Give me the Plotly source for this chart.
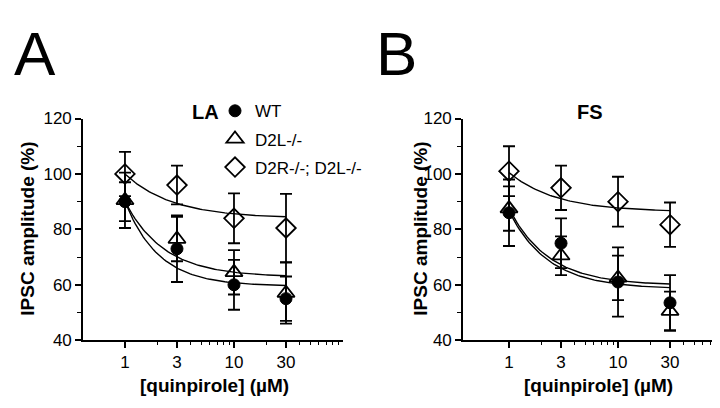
import numpy as np
import plotly.graph_objects as go

# ---------------- data ----------------
conc = [1, 3, 10, 30]  # quinpirole (uM)
tick_vals = [1, 3, 10, 30]
tick_text = ["1", "3", "10", "30"]
minor_x = [2, 4, 5, 6, 7, 8, 9, 20, 40, 50, 60, 70, 80, 90]

# Panel A (LA)
la_wt = [90, 73, 60, 55]
la_wt_err = [7, 12, 9, 8]
la_d2l = [90.5, 76.5, 64.5, 57]
la_d2l_err = [10, 8, 8, 11]
la_dko = [100, 96, 84, 80.5]
la_dko_err = [8, 7, 9, 12.3]

# Panel B (FS)
fs_wt = [86, 75, 61, 53.5]
fs_wt_err = [12, 9, 12.5, 10]
fs_d2l = [87.5, 70.5, 62.5, 50.5]
fs_d2l_err = [8, 7, 8, 7]
fs_dko = [101, 95, 90, 81.7]
fs_dko_err = [9, 8, 9, 8]

# fitted curves: value at 1 uM, plateau, decay exponent
la_fit_wt = (90, 59.5, 1.4)
la_fit_d2l = (90, 62.8, 1.2)
la_fit_dko = (100, 84, 1.0)
fs_fit_wt = (86.5, 58.5, 1.2)
fs_fit_d2l = (87.5, 59.8, 1.2)
fs_fit_dko = (100.5, 86.3, 1.0)

names = ["WT", "D2L-/-", "D2R-/-; D2L-/-"]

FONT = "Liberation Sans, Arial, sans-serif"

fig = go.Figure()

x_fit = np.geomspace(1, 30, 80)


def fit_curve(p):
    y1, bottom, h = p
    return bottom + (y1 - bottom) * x_fit ** (-h)


def add_panel(xa, ya, series, fits, show_legend):
    for p in fits:
        fig.add_trace(go.Scatter(x=x_fit, y=fit_curve(p), mode="lines",
                                 line=dict(color="black", width=1.4),
                                 showlegend=False, hoverinfo="skip",
                                 xaxis=xa, yaxis=ya))
    styles = [
        dict(symbol="circle", size=12, color="black", line=dict(color="black", width=1)),
        dict(symbol="triangle-up-open", size=15, color="black", line=dict(color="black", width=1.8)),
        dict(symbol="diamond-open", size=15, color="black", line=dict(color="black", width=1.8)),
    ]
    for i, (vals, errs) in enumerate(series):
        fig.add_trace(go.Scatter(
            x=conc, y=vals, mode="markers", name=names[i],
            marker=styles[i],
            error_y=dict(type="data", array=errs, visible=True,
                         color="black", thickness=1.8, width=6),
            showlegend=show_legend, legendgroup=names[i],
            xaxis=xa, yaxis=ya))


add_panel("x", "y",
          [(la_wt, la_wt_err), (la_d2l, la_d2l_err), (la_dko, la_dko_err)],
          [la_fit_wt, la_fit_d2l, la_fit_dko], True)
add_panel("x2", "y2",
          [(fs_wt, fs_wt_err), (fs_d2l, fs_d2l_err), (fs_dko, fs_dko_err)],
          [fs_fit_wt, fs_fit_d2l, fs_fit_dko], False)

W, H = 720, 408
ydom = [(408 - 339) / H, (408 - 106.5) / H]

xaxis_common = dict(type="log", tickvals=tick_vals, ticktext=tick_text,
                    ticks="outside", ticklen=6, tickwidth=1.6, tickcolor="black",
                    showline=True, linecolor="black", linewidth=1.6,
                    showgrid=False, zeroline=False,
                    tickfont=dict(family=FONT, size=17, color="black"),
                    minor=dict(tickvals=minor_x, ticks="outside", ticklen=3,
                               tickwidth=1.3, tickcolor="black", showgrid=False))
yaxis_common = dict(range=[40, 120], tickvals=[40, 60, 80, 100, 120],
                    ticks="outside", ticklen=6, tickwidth=1.6, tickcolor="black",
                    showline=True, linecolor="black", linewidth=1.6,
                    showgrid=False, zeroline=False,
                    tickfont=dict(family=FONT, size=17, color="black"),
                    minor=dict(tickvals=[50, 70, 90, 110], ticks="outside", ticklen=4,
                               tickwidth=1.3, tickcolor="black", showgrid=False))

fig.update_layout(
    width=W, height=H, margin=dict(l=0, r=0, t=0, b=0),
    paper_bgcolor="white", plot_bgcolor="white",
    font=dict(family=FONT, color="black"),
    xaxis=dict(domain=[75 / W, 335 / W], range=[-0.385, 2.0], anchor="y", **xaxis_common),
    yaxis=dict(domain=ydom, anchor="x", **yaxis_common),
    xaxis2=dict(domain=[455 / W, 715 / W], range=[-0.422, 1.963], anchor="y2", **xaxis_common),
    yaxis2=dict(domain=ydom, anchor="x2", **yaxis_common),
    showlegend=True,
    legend=dict(x=207 / W, y=(408 - 80) / H, xanchor="left", yanchor="top",
                font=dict(family=FONT, size=17, color="black"),
                bgcolor="rgba(0,0,0,0)", traceorder="grouped", tracegroupgap=3,
                itemsizing="trace", itemwidth=30),
)

ann = []
ann.append(dict(text="A", x=4 / W, y=1, xref="paper", yref="paper",
                xanchor="left", yanchor="top", showarrow=False,
                font=dict(family=FONT, size=62)))
ann.append(dict(text="B", x=366 / W, y=1, xref="paper", yref="paper",
                xanchor="left", yanchor="top", showarrow=False,
                font=dict(family=FONT, size=62)))
ann.append(dict(text="<b>LA</b>", x=197 / W, y=1 - 100 / H, xref="paper", yref="paper",
                xanchor="center", yanchor="middle", showarrow=False,
                font=dict(family=FONT, size=20)))
ann.append(dict(text="<b>FS</b>", x=582 / W, y=1 - 100 / H, xref="paper", yref="paper",
                xanchor="center", yanchor="middle", showarrow=False,
                font=dict(family=FONT, size=20)))
for cx in [206, 590]:
    ann.append(dict(text="<b>[quinpirole] (µM)</b>", x=cx / W, y=1 - 386 / H,
                    xref="paper", yref="paper", xanchor="center", yanchor="middle",
                    showarrow=False, font=dict(family=FONT, size=19)))
for cx in [20, 413]:
    ann.append(dict(text="<b>IPSC amplitude (%)</b>", x=cx / W, y=1 - 222 / H,
                    xref="paper", yref="paper", xanchor="center", yanchor="middle",
                    textangle=-90, showarrow=False, font=dict(family=FONT, size=19)))
fig.update_layout(annotations=ann)

fig.write_html("out.html")
